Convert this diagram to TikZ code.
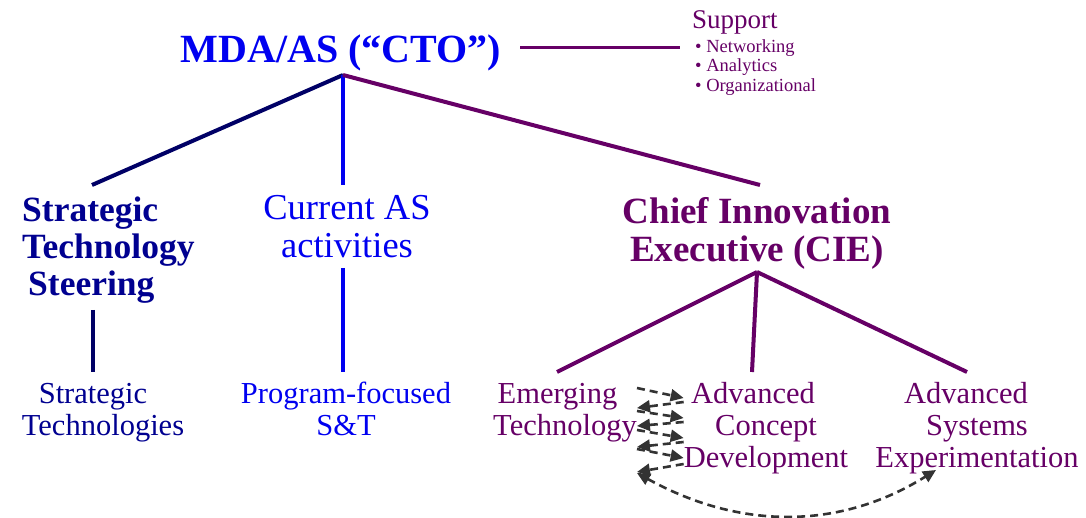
\documentclass[tikz,border=0pt]{standalone}
\usepackage{fontspec}
\setmainfont{Liberation Serif}
\usepackage{xcolor}
\usetikzlibrary{positioning,arrows.meta}
\definecolor{navy}{HTML}{000090}
\definecolor{navyline}{HTML}{000066}
\definecolor{mdablue}{HTML}{0000F0}
\definecolor{plum}{HTML}{660066}
\definecolor{flowgray}{HTML}{333333}

\begin{document}
\begin{tikzpicture}[x=1pt,y=-1pt]
\tikzstyle{every node}=[inner sep=0pt,align=center];
\tikzstyle{link}=[line width=4pt];
\tikzstyle{flow}=[flowgray,line width=2.6pt,dash pattern=on 8pt off 5pt,-{Triangle[length=13pt,width=12pt]}];

\useasboundingbox (0,0) rectangle (1086,518);

% top
\node[mdablue,anchor=base,font=\fontsize{40}{44}\selectfont\bfseries] (mda) at (341,63) {MDA/AS (“CTO”)};
\node[plum,anchor=base west,font=\fontsize{27}{29}\selectfont] (supt) at (692,29) {Support};
\node[plum,anchor=north west,align=left,font=\fontsize{18.5}{19.5}\selectfont] (supl) at (695,39)
  {\textbullet\ Networking\\ \textbullet\ Analytics\\ \textbullet\ Organizational};

% middle row
\node[navy,anchor=north west,align=left,font=\fontsize{35.5}{37}\selectfont\bfseries] (sts) at (22,197)
  {Strategic\\Technology\\\hspace*{6pt}Steering};
\node[mdablue,anchor=north,font=\fontsize{36.5}{38}\selectfont] (cas) at (347,195) {Current AS\\activities};
\node[plum,anchor=north,font=\fontsize{37}{38}\selectfont\bfseries] (cie) at (757,197) {Chief Innovation\\Executive (CIE)};

% bottom row
\node[navy,anchor=north,font=\fontsize{30.5}{32}\selectfont] (stech) at (103,383) {Strategic\hspace*{20pt}\\Technologies};
\node[mdablue,anchor=north,font=\fontsize{30.5}{32}\selectfont] (prog) at (346,382) {Program-focused\\S\&T};
\node[plum,anchor=north,font=\fontsize{30.5}{32}\selectfont] (emt) at (565,383) {Emerging\hspace*{15pt}\\Technology};
\node[plum,anchor=north,font=\fontsize{30.5}{32}\selectfont] (acd) at (766,382) {Advanced\hspace*{26pt}\\Concept\\Development};
\node[plum,anchor=north,font=\fontsize{30.5}{32}\selectfont] (ase) at (977,382) {Advanced\hspace*{22pt}\\Systems\\Experimentation};

% connector ends
\coordinate (mda-out) at (343,75);
\coordinate (mda-r) at (520,48);
\coordinate (sup-l) at (680,48);
\coordinate (sts-in) at (92,185);
\coordinate (cas-in) at (343,185);
\coordinate (cie-in) at (760,185);
\coordinate (sts-out) at (93,310);
\coordinate (stech-in) at (93,372);
\coordinate (cas-out) at (343,268);
\coordinate (prog-in) at (343,372);
\coordinate (cie-out) at (757,272);
\coordinate (emt-in) at (557,372);
\coordinate (acd-in) at (752,372);
\coordinate (ase-in) at (967,372);
\coordinate (ase-tip) at (936,470);

\draw[plum,line width=3pt] (mda-r) -- (sup-l);
\draw[link,navyline] (mda-out) -- (sts-in);
\draw[link,mdablue] (mda-out) -- (cas-in);
\draw[link,plum] (mda-out) -- (cie-in);
\draw[link,navyline] (sts-out) -- (stech-in);
\draw[link,mdablue] (cas-out) -- (prog-in);
\draw[link,plum] (cie-out) -- (emt-in)
  (cie-out) -- (acd-in)
  (cie-out) -- (ase-in);

% exchange between emerging tech and concept development
\foreach \ya/\yb in {388/398,411/418,430/438,449/458}
  \draw[flow] (emt.east |- 0,\ya) -- (acd.west |- 0,\yb);
\foreach \ya/\yb in {402/408,422/426,442/447,464/472}
  \draw[flow] (acd.west |- 0,\ya) -- (emt.east |- 0,\yb);
\draw[flow,{Triangle[length=13pt,width=12pt]}-{Triangle[length=13pt,width=12pt]}]
  (emt.east |- 0,473) .. controls (740,530) and (840,530) .. (ase-tip);
\end{tikzpicture}
\end{document}
